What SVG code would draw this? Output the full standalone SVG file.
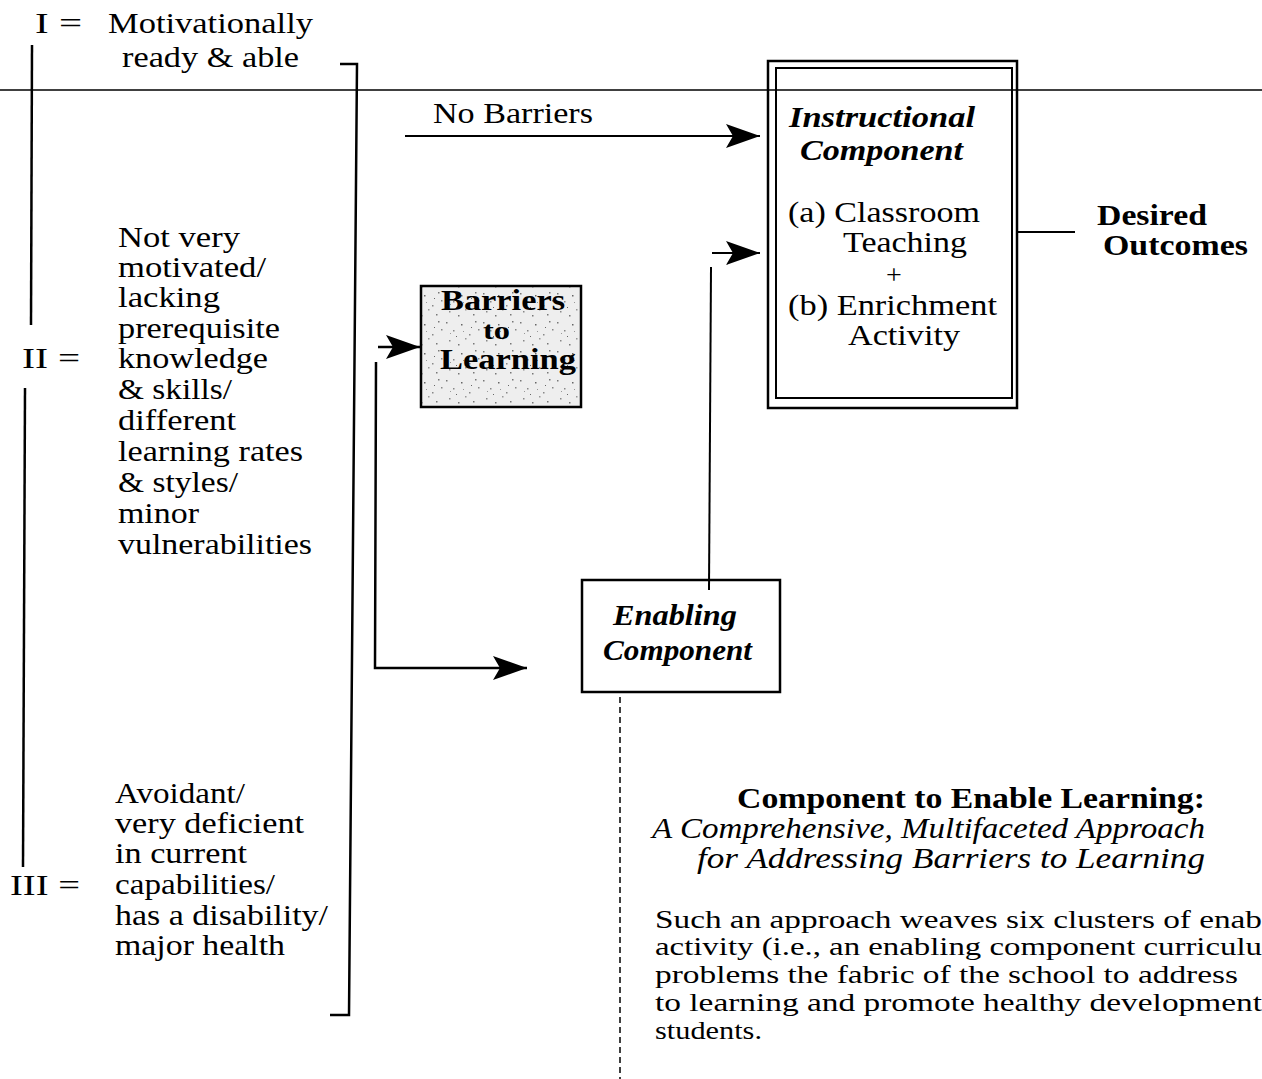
<svg xmlns="http://www.w3.org/2000/svg" width="1262" height="1079" viewBox="0 0 1262 1079" font-family="'Liberation Serif', 'Times New Roman', Tinos, Times, serif">
<style>
text{font-family:'Liberation Serif','Times New Roman',Tinos,Times,serif;fill:#000}
.t{font-size:30px}
.b{font-size:30px;font-weight:bold}
.bi{font-size:30px;font-weight:bold;font-style:italic}
.i{font-size:30px;font-style:italic}
.p{font-size:25px}
.ln{stroke:#000;fill:none}
</style>
<defs>
<marker id="ah" markerUnits="userSpaceOnUse" viewBox="0 0 34 24" refX="34" refY="12" markerWidth="34" markerHeight="24" orient="auto">
<path d="M0,0 L34,12 L0,24 L7,12 z" fill="#000"/>
</marker>
<pattern id="stip" patternUnits="userSpaceOnUse" width="37" height="29">
<rect width="37" height="29" fill="#eeeeee"/>
<rect x="2" y="3" width="1.5" height="1.5" fill="#777"/>
<rect x="9" y="11" width="1.5" height="1.5" fill="#888"/>
<rect x="17" y="5" width="1.5" height="1.5" fill="#666"/>
<rect x="25" y="15" width="1.5" height="1.5" fill="#888"/>
<rect x="31" y="2" width="1.5" height="1.5" fill="#777"/>
<rect x="5" y="21" width="1.5" height="1.5" fill="#888"/>
<rect x="14" y="25" width="1.5" height="1.5" fill="#777"/>
<rect x="21" y="19" width="1.5" height="1.5" fill="#999"/>
<rect x="29" y="24" width="1.5" height="1.5" fill="#777"/>
<rect x="34" y="10" width="1.5" height="1.5" fill="#888"/>
<rect x="12" y="17" width="1" height="1" fill="#666"/>
<rect x="27" y="8" width="1" height="1" fill="#666"/>
<rect x="6" y="14" width="1" height="1" fill="#999"/>
<rect x="19" y="12" width="1" height="1" fill="#999"/>
</pattern>
</defs>

<g id="connectors">
<line class="ln" x1="0" y1="90" x2="1262" y2="90" stroke-width="1.5"/>
<line class="ln" x1="32" y1="45" x2="31" y2="325" stroke-width="2.5"/>
<line class="ln" x1="25" y1="388" x2="23" y2="867" stroke-width="2.5"/>
<polyline class="ln" points="340,64 357,64 349,1015 330,1015" stroke-width="2.5"/>
<line class="ln" x1="405" y1="136" x2="760" y2="136" stroke-width="2" marker-end="url(#ah)"/>
<line class="ln" x1="712" y1="253" x2="760" y2="253" stroke-width="2" marker-end="url(#ah)"/>
<line class="ln" x1="711" y1="267" x2="709" y2="590" stroke-width="2"/>
<line class="ln" x1="378" y1="347" x2="420" y2="347" stroke-width="2.5" marker-end="url(#ah)"/>
<polyline class="ln" points="376,362 375,668 527,668" stroke-width="2.5" marker-end="url(#ah)"/>
<line class="ln" x1="1017" y1="232" x2="1075" y2="232" stroke-width="2"/>
<line class="ln" x1="620" y1="697" x2="620" y2="1079" stroke-width="1.5" stroke-dasharray="6 4"/>
</g>

<g id="level-I">
<text class="t" x="35" y="33" textLength="47" lengthAdjust="spacingAndGlyphs">I =</text>
<text class="t" x="108" y="33" textLength="205" lengthAdjust="spacingAndGlyphs">Motivationally</text>
<text class="t" x="122" y="67" textLength="177" lengthAdjust="spacingAndGlyphs">ready &amp; able</text>
</g>

<g id="level-II">
<text class="t" x="22" y="368" textLength="58" lengthAdjust="spacingAndGlyphs">II =</text>
<text class="t" x="118" y="247" textLength="122" lengthAdjust="spacingAndGlyphs">Not very</text>
<text class="t" x="118" y="277" textLength="148" lengthAdjust="spacingAndGlyphs">motivated/</text>
<text class="t" x="118" y="307" textLength="102" lengthAdjust="spacingAndGlyphs">lacking</text>
<text class="t" x="118" y="338" textLength="162" lengthAdjust="spacingAndGlyphs">prerequisite</text>
<text class="t" x="118" y="368" textLength="150" lengthAdjust="spacingAndGlyphs">knowledge</text>
<text class="t" x="118" y="399" textLength="114" lengthAdjust="spacingAndGlyphs">&amp; skills/</text>
<text class="t" x="118" y="430" textLength="118" lengthAdjust="spacingAndGlyphs">different</text>
<text class="t" x="118" y="461" textLength="185" lengthAdjust="spacingAndGlyphs">learning rates</text>
<text class="t" x="118" y="492" textLength="120" lengthAdjust="spacingAndGlyphs">&amp; styles/</text>
<text class="t" x="118" y="523" textLength="81" lengthAdjust="spacingAndGlyphs">minor</text>
<text class="t" x="118" y="554" textLength="194" lengthAdjust="spacingAndGlyphs">vulnerabilities</text>
</g>

<g id="level-III">
<text class="t" x="10" y="895" textLength="70" lengthAdjust="spacingAndGlyphs">III =</text>
<text class="t" x="115" y="803" textLength="130" lengthAdjust="spacingAndGlyphs">Avoidant/</text>
<text class="t" x="115" y="833" textLength="189" lengthAdjust="spacingAndGlyphs">very deficient</text>
<text class="t" x="115" y="863" textLength="132" lengthAdjust="spacingAndGlyphs">in current</text>
<text class="t" x="115" y="894" textLength="160" lengthAdjust="spacingAndGlyphs">capabilities/</text>
<text class="t" x="115" y="925" textLength="213" lengthAdjust="spacingAndGlyphs">has a disability/</text>
<text class="t" x="115" y="955" textLength="170" lengthAdjust="spacingAndGlyphs">major health</text>
</g>

<g id="no-barriers-label">
<text class="t" x="433" y="123" textLength="160" lengthAdjust="spacingAndGlyphs">No Barriers</text>
</g>

<g id="barriers">
<rect x="421" y="286" width="160" height="121" fill="url(#stip)" stroke="#000" stroke-width="2.5"/>
<text class="b" x="441" y="310" textLength="124" lengthAdjust="spacingAndGlyphs">Barriers</text>
<text class="b" x="483" y="339" textLength="27" lengthAdjust="spacingAndGlyphs" style="font-size:25px">to</text>
<text class="b" x="440" y="369" textLength="136" lengthAdjust="spacingAndGlyphs">Learning</text>
</g>

<g id="instructional">
<rect x="768" y="61" width="249" height="347" fill="none" stroke="#000" stroke-width="2.5"/>
<rect x="776" y="68" width="236" height="330" fill="none" stroke="#000" stroke-width="2"/>
<text class="bi" x="789" y="127" textLength="186" lengthAdjust="spacingAndGlyphs">Instructional</text>
<text class="bi" x="800" y="160" textLength="163" lengthAdjust="spacingAndGlyphs">Component</text>
<text class="t" x="788" y="222" textLength="192" lengthAdjust="spacingAndGlyphs">(a) Classroom</text>
<text class="t" x="843" y="252" textLength="124" lengthAdjust="spacingAndGlyphs">Teaching</text>
<text class="t" x="894" y="284" text-anchor="middle" style="font-size:28px">+</text>
<text class="t" x="788" y="315" textLength="209" lengthAdjust="spacingAndGlyphs">(b) Enrichment</text>
<text class="t" x="848" y="345" textLength="112" lengthAdjust="spacingAndGlyphs">Activity</text>
</g>

<g id="outcomes">
<text class="b" x="1097" y="225" textLength="110" lengthAdjust="spacingAndGlyphs">Desired</text>
<text class="b" x="1103" y="255" textLength="145" lengthAdjust="spacingAndGlyphs">Outcomes</text>
</g>

<g id="enabling">
<rect x="582" y="580" width="198" height="112" fill="none" stroke="#000" stroke-width="2.5"/>
<text class="bi" x="613" y="625" textLength="124" lengthAdjust="spacingAndGlyphs">Enabling</text>
<text class="bi" x="603" y="660" textLength="149" lengthAdjust="spacingAndGlyphs">Component</text>
</g>

<g id="description">
<text class="b" x="737" y="808" textLength="468" lengthAdjust="spacingAndGlyphs">Component to Enable Learning:</text>
<text class="i" x="652" y="838" textLength="553" lengthAdjust="spacingAndGlyphs">A Comprehensive, Multifaceted Approach</text>
<text class="i" x="697" y="868" textLength="508" lengthAdjust="spacingAndGlyphs">for Addressing Barriers to Learning</text>
<text class="p" x="655" y="928" textLength="607" lengthAdjust="spacingAndGlyphs">Such an approach weaves six clusters of enab</text>
<text class="p" x="655" y="955" textLength="607" lengthAdjust="spacingAndGlyphs">activity (i.e., an enabling component curriculu</text>
<text class="p" x="655" y="983" textLength="583" lengthAdjust="spacingAndGlyphs">problems the fabric of the school to address</text>
<text class="p" x="655" y="1011" textLength="607" lengthAdjust="spacingAndGlyphs">to learning and promote healthy development</text>
<text class="p" x="655" y="1039" textLength="107" lengthAdjust="spacingAndGlyphs">students.</text>
</g>
</svg>
